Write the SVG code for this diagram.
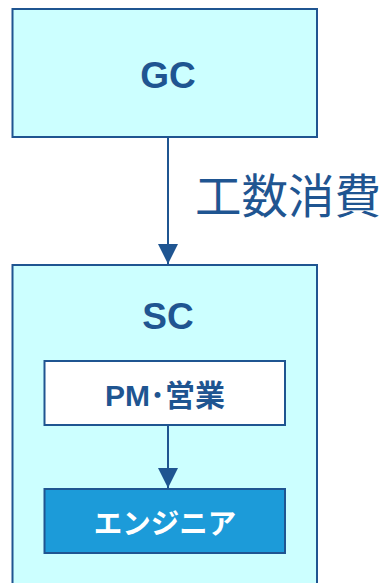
<svg xmlns="http://www.w3.org/2000/svg" width="387" height="583" viewBox="0 0 387 583">
<defs>
<style>
.box{fill:#ccffff;stroke:#1f5591;stroke-width:2}
.inner{fill:#ffffff;stroke:#1f5591;stroke-width:2}
.eng{fill:#1c9bd9;stroke:#1f5591;stroke-width:2}
.t{font-family:"Liberation Sans","Noto Sans CJK JP",sans-serif;font-weight:bold;fill:#1f5591;text-anchor:middle}
.edge{stroke:#1f5591;stroke-width:2;fill:none}
.lbl{font-family:"Noto Sans CJK JP",sans-serif;fill:#1f5591;font-size:46.5px}
</style>
<marker id="ah" markerWidth="20" markerHeight="20" viewBox="0 0 20 20" refX="20" refY="10" orient="auto" markerUnits="userSpaceOnUse">
<path d="M0,0 L20,10 L0,20 Z" fill="#1f5591"/>
</marker>
</defs>
<g id="GC">
<rect class="box" x="12.5" y="9" width="304.5" height="128"/>
<text class="t" x="168" y="88" font-size="37">GC</text>
</g>
<g id="SC">
<rect class="box" x="12.5" y="265" width="304.5" height="330"/>
<text class="t" x="168" y="329" font-size="37">SC</text>
</g>
<g id="PM">
<rect class="inner" x="44.5" y="361" width="240.5" height="64"/>
<text class="t" x="165" y="406" font-size="30">PM･営業</text>
</g>
<g id="Engineer">
<rect class="eng" x="44.5" y="489" width="240.5" height="64"/>
<text class="t" x="165" y="534" font-size="28.5" style="fill:#ffffff">エンジニア</text>
</g>
<g id="connectors">
<line class="edge" x1="168" y1="137" x2="168" y2="264" marker-end="url(#ah)"/>
<text class="lbl" x="195" y="213">工数消費</text>
<line class="edge" x1="168" y1="425" x2="168" y2="488" marker-end="url(#ah)"/>
</g>
</svg>
